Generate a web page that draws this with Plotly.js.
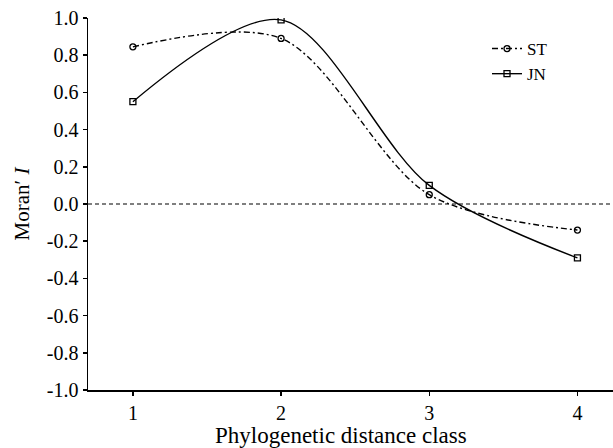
<!DOCTYPE html>
<html><head><meta charset="utf-8">
<script src="https://cdn.plot.ly/plotly-3.0.1.min.js"></script>
<style>body{margin:0;background:#fff}#c{width:613px;height:448px}</style>
</head><body><div id="c"></div>
<script>
const distanceClass = [1, 2, 3, 4];
const stValues = [0.845, 0.89, 0.05, -0.14];
const jnValues = [0.55, 0.99, 0.10, -0.29];
const yTicks = [1.0, 0.8, 0.6, 0.4, 0.2, 0.0, -0.2, -0.4, -0.6, -0.8, -1.0];
const yTickText = yTicks.map(v => v.toFixed(1));

const traces = [
  {x: distanceClass, y: stValues, name: 'ST', mode: 'lines+markers',
   line: {color: '#000', width: 1.4, dash: '6px,3px,2px,3px', shape: 'spline', smoothing: 0.9},
   marker: {symbol: 'circle-open', size: 6, color: '#000', line: {width: 1.3}}},
  {x: distanceClass, y: jnValues, name: 'JN', mode: 'lines+markers',
   line: {color: '#000', width: 1.4, shape: 'spline', smoothing: 0.9},
   marker: {symbol: 'square-open', size: 6, color: '#000', line: {width: 1.3}}}
];
const font = {family: '"Liberation Serif", "Times New Roman", serif', color: '#000'};
const layout = {
  width: 613, height: 448,
  margin: {l: 88, r: 0, t: 18, b: 58},
  paper_bgcolor: '#fff', plot_bgcolor: '#fff',
  font: Object.assign({size: 17}, font),
  showlegend: true,
  legend: {x: 0.76, y: 0.965, xanchor: 'left', yanchor: 'top', bgcolor: 'rgba(0,0,0,0)',
           font: Object.assign({size: 17}, font), tracegroupgap: 0},
  xaxis: {range: [0.697, 4.24], tickvals: distanceClass, ticktext: distanceClass.map(String),
          showgrid: false, zeroline: false, showline: true, linecolor: '#000', linewidth: 1.5,
          ticks: 'outside', ticklen: 4, tickwidth: 1.5, tickcolor: '#000',
          tickfont: Object.assign({size: 20}, font)},
  yaxis: {range: [-1.0, 1.0], tickvals: yTicks, ticktext: yTickText,
          showgrid: false, zeroline: false, showline: true, linecolor: '#000', linewidth: 1.5,
          ticks: 'outside', ticklen: 4, tickwidth: 1.5, tickcolor: '#000',
          tickfont: Object.assign({size: 20}, font),
          title: {text: 'Moran′ <i>I</i>', font: Object.assign({size: 21}, font), standoff: 11}},
  annotations: [{text: 'Phylogenetic distance class', xref: 'paper', yref: 'paper',
                 x: 0.482, y: -0.082, xanchor: 'center', yanchor: 'top', showarrow: false,
                 font: Object.assign({size: 23}, font)}],
  shapes: [{type: 'line', xref: 'paper', yref: 'y', x0: 0, x1: 1, y0: 0, y1: 0,
            line: {color: '#000', width: 1.2, dash: '4px,3px'}}]
};
Plotly.newPlot('c', traces, layout, {displayModeBar: false, staticPlot: true});
</script></body></html>
